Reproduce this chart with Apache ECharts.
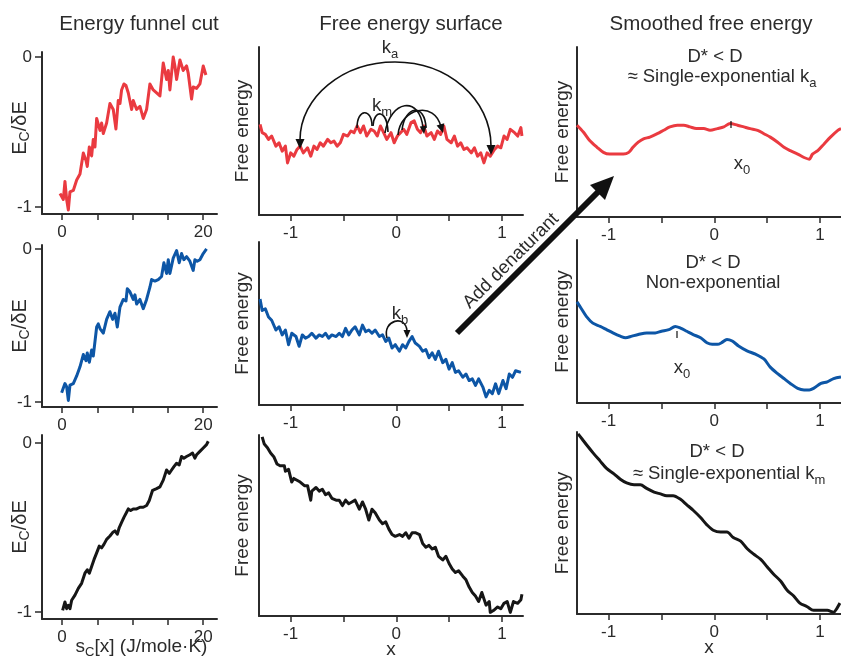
<!DOCTYPE html>
<html><head><meta charset="utf-8">
<script src="https://cdn.jsdelivr.net/npm/echarts@6/dist/echarts.min.js"></script>
<style>html,body{margin:0;padding:0;background:#fff}#c{width:841px;height:659px}</style>
</head><body><div id="c"></div>
<script>
// ---------- DATA ----------
// Column 1: energy funnel cut, x = s_C[x], y = E_C/dE
const funnelRedX = [-0.28,0.19,0.42,0.66,0.90,1.13,1.60,2.08,2.55,3.02,3.40,3.58,3.87,4.20,4.43,4.67,4.91,5.38,5.61,5.85,6.32,6.79,7.26,7.64,7.97,8.21,8.44,8.77,9.06,9.39,9.86,10.09,10.57,11.04,11.51,11.98,12.45,12.92,13.40,13.87,14.34,14.81,15.05,15.28,15.75,15.99,16.23,16.70,17.17,17.64,17.88,18.35,18.58,19.06,19.53,20.00,20.38];
const funnelRedY = [-0.91,-0.95,-0.83,-0.95,-1.02,-0.90,-0.89,-0.82,-0.78,-0.64,-0.69,-0.73,-0.60,-0.66,-0.55,-0.60,-0.41,-0.49,-0.44,-0.51,-0.44,-0.31,-0.35,-0.48,-0.29,-0.31,-0.22,-0.18,-0.19,-0.24,-0.35,-0.29,-0.35,-0.33,-0.41,-0.35,-0.18,-0.22,-0.24,-0.26,-0.04,-0.15,-0.09,-0.22,0.0,-0.06,-0.15,-0.02,-0.09,-0.06,-0.11,-0.28,-0.20,-0.21,-0.18,-0.06,-0.12];
const funnelBlueX = [-0.05,0.42,0.66,0.90,1.13,1.60,2.08,2.55,3.02,3.40,3.58,3.87,4.20,4.43,4.91,5.14,5.38,5.61,5.85,6.32,6.79,7.17,7.50,7.83,8.21,8.68,9.06,9.25,9.62,10.09,10.33,10.57,11.04,11.51,11.98,12.45,12.69,13.16,13.63,14.10,14.43,14.81,15.05,15.28,15.75,16.23,16.60,16.93,17.26,17.64,18.11,18.58,18.82,19.15,19.53,20.00,20.47];
const funnelBlueY = [-0.94,-0.88,-0.90,-0.99,-0.89,-0.88,-0.83,-0.77,-0.69,-0.73,-0.68,-0.74,-0.66,-0.70,-0.51,-0.49,-0.52,-0.51,-0.55,-0.46,-0.41,-0.46,-0.42,-0.51,-0.38,-0.33,-0.34,-0.26,-0.28,-0.33,-0.30,-0.36,-0.33,-0.39,-0.33,-0.25,-0.20,-0.21,-0.20,-0.18,-0.09,-0.16,-0.07,-0.16,-0.06,-0.01,-0.09,-0.03,-0.07,-0.05,-0.08,-0.14,-0.07,-0.08,-0.07,-0.03,0.0];
const funnelBlackX = [0.09,0.42,0.66,0.90,1.13,1.37,1.84,2.31,2.78,3.25,3.58,3.87,4.20,4.53,4.91,5.28,5.61,5.94,6.32,6.79,7.17,7.50,7.83,8.11,8.44,8.77,9.15,9.39,9.72,10.09,10.57,11.04,11.51,11.98,12.36,12.83,13.40,13.87,14.34,14.81,15.19,15.52,15.85,16.23,16.60,16.93,17.26,17.64,18.11,18.49,18.82,19.06,19.53,20.00,20.47,20.71];
const funnelBlackY = [-0.99,-0.94,-0.98,-0.96,-0.98,-0.93,-0.90,-0.86,-0.83,-0.77,-0.75,-0.77,-0.73,-0.69,-0.65,-0.61,-0.62,-0.60,-0.57,-0.55,-0.53,-0.52,-0.54,-0.50,-0.47,-0.44,-0.41,-0.39,-0.40,-0.39,-0.39,-0.38,-0.38,-0.37,-0.34,-0.28,-0.27,-0.26,-0.22,-0.16,-0.18,-0.16,-0.14,-0.12,-0.13,-0.08,-0.09,-0.08,-0.07,-0.06,-0.09,-0.07,-0.05,-0.03,-0.01,0.01];

// Column 2: free energy surface (x = reaction coordinate, y = relative free energy 0..1)
const surfRedX = [-1.29,-1.27,-1.24,-1.21,-1.18,-1.14,-1.11,-1.08,-1.05,-1.03,-1.00,-0.97,-0.94,-0.91,-0.88,-0.84,-0.81,-0.78,-0.75,-0.72,-0.69,-0.65,-0.62,-0.59,-0.56,-0.53,-0.50,-0.46,-0.43,-0.40,-0.37,-0.34,-0.31,-0.28,-0.24,-0.21,-0.18,-0.15,-0.12,-0.09,-0.05,-0.02,0.01,0.04,0.07,0.10,0.14,0.17,0.20,0.23,0.26,0.29,0.33,0.36,0.39,0.42,0.45,0.48,0.52,0.55,0.58,0.61,0.64,0.67,0.71,0.74,0.77,0.80,0.83,0.86,0.89,0.93,0.96,0.99,1.02,1.05,1.08,1.12,1.15,1.18,1.19];
const surfRedY = [0.54,0.49,0.48,0.45,0.47,0.41,0.43,0.38,0.41,0.31,0.37,0.35,0.39,0.41,0.37,0.40,0.35,0.41,0.39,0.43,0.41,0.45,0.43,0.44,0.41,0.43,0.48,0.47,0.50,0.49,0.53,0.49,0.53,0.47,0.51,0.50,0.47,0.53,0.49,0.45,0.49,0.43,0.47,0.49,0.51,0.48,0.55,0.56,0.51,0.49,0.53,0.47,0.49,0.45,0.50,0.48,0.53,0.45,0.43,0.47,0.41,0.43,0.39,0.40,0.37,0.40,0.35,0.37,0.31,0.37,0.35,0.39,0.41,0.40,0.47,0.45,0.51,0.49,0.47,0.52,0.47];
const surfBlueX = [-1.29,-1.27,-1.24,-1.21,-1.18,-1.14,-1.11,-1.08,-1.05,-1.02,-0.99,-0.95,-0.92,-0.89,-0.86,-0.83,-0.80,-0.76,-0.73,-0.70,-0.67,-0.64,-0.61,-0.57,-0.54,-0.51,-0.48,-0.45,-0.42,-0.39,-0.35,-0.32,-0.29,-0.26,-0.23,-0.20,-0.16,-0.13,-0.10,-0.07,-0.04,-0.01,0.03,0.06,0.09,0.12,0.15,0.18,0.22,0.25,0.28,0.31,0.34,0.37,0.40,0.44,0.47,0.50,0.53,0.56,0.59,0.63,0.66,0.69,0.72,0.75,0.78,0.82,0.85,0.88,0.91,0.94,0.97,1.01,1.04,1.07,1.10,1.13,1.18];
const surfBlueY = [0.65,0.58,0.59,0.54,0.52,0.46,0.48,0.43,0.46,0.37,0.44,0.42,0.36,0.43,0.41,0.42,0.44,0.41,0.43,0.42,0.44,0.41,0.43,0.42,0.44,0.42,0.47,0.43,0.46,0.48,0.43,0.49,0.45,0.46,0.44,0.46,0.42,0.43,0.39,0.41,0.35,0.37,0.33,0.37,0.35,0.39,0.42,0.38,0.36,0.33,0.34,0.29,0.32,0.28,0.33,0.26,0.28,0.22,0.26,0.20,0.21,0.17,0.19,0.15,0.16,0.12,0.16,0.11,0.05,0.09,0.07,0.13,0.07,0.15,0.10,0.19,0.17,0.21,0.20];
const surfBlackX = [-1.27,-1.25,-1.22,-1.19,-1.16,-1.13,-1.10,-1.06,-1.05,-1.02,-0.99,-0.97,-0.94,-0.91,-0.87,-0.84,-0.81,-0.80,-0.76,-0.73,-0.70,-0.67,-0.64,-0.61,-0.57,-0.54,-0.51,-0.48,-0.45,-0.42,-0.39,-0.35,-0.32,-0.29,-0.26,-0.23,-0.20,-0.16,-0.13,-0.10,-0.07,-0.04,-0.01,0.03,0.06,0.09,0.12,0.15,0.18,0.22,0.25,0.28,0.31,0.34,0.37,0.40,0.44,0.47,0.50,0.53,0.56,0.59,0.63,0.66,0.69,0.72,0.75,0.78,0.81,0.85,0.88,0.89,0.92,0.96,0.99,1.02,1.05,1.08,1.11,1.15,1.18,1.19];
const surfBlackY = [0.99,0.95,0.93,0.90,0.88,0.84,0.83,0.83,0.80,0.81,0.74,0.76,0.75,0.74,0.72,0.72,0.64,0.69,0.71,0.69,0.70,0.67,0.68,0.65,0.64,0.64,0.61,0.64,0.62,0.63,0.64,0.59,0.63,0.59,0.53,0.59,0.57,0.53,0.51,0.52,0.48,0.45,0.44,0.45,0.44,0.46,0.43,0.46,0.46,0.45,0.40,0.38,0.39,0.37,0.38,0.33,0.31,0.33,0.29,0.26,0.24,0.25,0.22,0.20,0.16,0.13,0.11,0.08,0.13,0.06,0.08,0.02,0.03,0.05,0.04,0.07,0.08,0.02,0.08,0.07,0.09,0.12];

// Column 3: smoothed free energy
const smoothRedX = [-1.30,-1.24,-1.18,-1.11,-1.05,-0.99,-0.92,-0.86,-0.81,-0.77,-0.72,-0.67,-0.61,-0.54,-0.48,-0.42,-0.35,-0.29,-0.23,-0.17,-0.10,-0.04,0.03,0.09,0.15,0.22,0.28,0.34,0.41,0.47,0.53,0.60,0.66,0.72,0.79,0.85,0.90,0.93,0.98,1.04,1.10,1.17,1.20];
const smoothRedY = [0.54,0.50,0.45,0.41,0.38,0.37,0.37,0.37,0.38,0.41,0.44,0.46,0.47,0.49,0.51,0.53,0.54,0.54,0.53,0.52,0.52,0.51,0.52,0.53,0.55,0.54,0.53,0.52,0.51,0.49,0.47,0.44,0.41,0.39,0.37,0.35,0.34,0.37,0.39,0.43,0.47,0.51,0.52];
const smoothBlueX = [-1.30,-1.26,-1.21,-1.15,-1.08,-1.02,-0.96,-0.89,-0.84,-0.78,-0.72,-0.64,-0.56,-0.50,-0.43,-0.37,-0.32,-0.26,-0.20,-0.13,-0.07,-0.02,0.03,0.07,0.12,0.17,0.23,0.31,0.39,0.47,0.53,0.60,0.66,0.72,0.79,0.85,0.90,0.94,1.01,1.07,1.13,1.20];
const smoothBlueY = [0.62,0.58,0.53,0.49,0.47,0.45,0.43,0.41,0.40,0.41,0.42,0.43,0.43,0.44,0.45,0.47,0.46,0.44,0.42,0.40,0.37,0.36,0.36,0.37,0.39,0.38,0.35,0.32,0.30,0.27,0.22,0.18,0.15,0.12,0.09,0.08,0.08,0.09,0.12,0.13,0.15,0.16];
const smoothBlackX = [-1.29,-1.25,-1.21,-1.14,-1.08,-1.02,-0.95,-0.89,-0.83,-0.76,-0.70,-0.64,-0.57,-0.51,-0.45,-0.39,-0.32,-0.26,-0.20,-0.13,-0.07,-0.01,0.06,0.12,0.18,0.25,0.31,0.37,0.44,0.50,0.56,0.63,0.69,0.75,0.81,0.88,0.94,1.00,1.07,1.13,1.16,1.19];
const smoothBlackY = [0.99,0.96,0.93,0.88,0.84,0.80,0.77,0.74,0.72,0.71,0.71,0.69,0.67,0.66,0.65,0.65,0.63,0.60,0.57,0.53,0.49,0.46,0.45,0.45,0.42,0.40,0.36,0.33,0.30,0.26,0.22,0.18,0.13,0.10,0.06,0.04,0.02,0.02,0.02,0.01,0.03,0.06];

// Tick labels
const funnelTicks = [0,5,10,15,20];
const funnelTickLabels = [0,20];
const funnelYTicks = [-1,0];
const coordTicks = [-1,-0.5,0,0.5,1];
const coordTickLabels = [-1,0,1];

// ---------- CHART ----------
const FONT = '"Liberation Sans", Arial, Helvetica, sans-serif';
const TXT = '#2b2b2b';
const AX = '#2b2b2b';
const RED = '#ea3a40', BLUE = '#0d56a6', BLACK = '#161616';

const gridBoxes = [
  [42,52,175,162],[42,245,175,162],[42,435,175,184],
  [259,47,264,168],[259,242,264,163],[259,435,264,181],
  [577,47,264,170],[577,240,264,163],[577,432,264,182]
];
const grids = gridBoxes.map(b => ({left:b[0], top:b[1], width:b[2], height:b[3], outerBoundsMode:'none', containLabel:false}));
const funnelRanges = [[-1.047,0.033],[-1.033,0.026],[-1.041,0.047]];

const axisLine = {show:true, onZero:false, lineStyle:{color:AX, width:2}};
const tickStyle = {color:AX, width:1.5};
const subRich = (size, sub) => ({
  a:{fontSize:size, lineHeight:24, verticalAlign:'middle', color:TXT, fontFamily:FONT},
  s:{fontSize:sub, lineHeight:12, verticalAlign:'bottom', color:TXT, fontFamily:FONT}
});
const LBL = {fontSize:17, color:TXT, fontFamily:FONT};

const xAxes = [], yAxes = [];
for (let r = 0; r < 3; r++) {
  const xa = {gridIndex:r, type:'value', min:-2.83, max:21.95, axisLine,
    axisTick:{show:true, customValues:funnelTicks, length:6, lineStyle:tickStyle},
    axisLabel:Object.assign({customValues:funnelTickLabels, margin:10}, LBL),
    splitLine:{show:false}};
  if (r === 2) Object.assign(xa, {name:'{a|s}{s|C}{a|[x] (J/mole·K)}', nameLocation:'middle', nameGap:16,
    nameMoveOverlap:false, nameTextStyle:{rich:subRich(19, 13), padding:[0,0,0,24]}});
  xAxes.push(xa);
  yAxes.push({gridIndex:r, type:'value', min:funnelRanges[r][0], max:funnelRanges[r][1], axisLine,
    axisTick:{show:true, customValues:funnelYTicks, length:7, lineStyle:tickStyle},
    axisLabel:Object.assign({customValues:funnelYTicks, margin:10}, LBL),
    splitLine:{show:false},
    name:'{a|E}{s|C}{a|/δE}', nameLocation:'middle', nameRotate:90, nameGap:10, nameMoveOverlap:false,
    nameTextStyle:{rich:subRich(20, 14), padding:(r === 0 ? [0,0,0,10] : 0)}});
}
for (let g = 3; g < 9; g++) {
  const xa = {gridIndex:g, type:'value', min:-1.3, max:1.2, axisLine,
    axisTick:{show:true, customValues:coordTicks, length:6, lineStyle:tickStyle},
    axisLabel:Object.assign({customValues:coordTickLabels, margin:10}, LBL),
    splitLine:{show:false}};
  if (g === 5 || g === 8) Object.assign(xa, {name:'x', nameLocation:'middle', nameGap:24, nameMoveOverlap:false,
    nameTextStyle:{fontSize:19, color:TXT, fontFamily:FONT}});
  xAxes.push(xa);
  yAxes.push({gridIndex:g, type:'value', min:0, max:1, axisLine,
    axisTick:{show:false}, axisLabel:{show:false}, splitLine:{show:false},
    name:'Free energy', nameLocation:'middle', nameRotate:90, nameGap:(g<6?7:5), nameMoveOverlap:false,
    nameTextStyle:{fontSize:19, color:TXT, fontFamily:FONT}});
}

const pairs = (xs, ys) => xs.map((x, i) => [x, ys[i]]);
const curves = [
  [funnelRedX, funnelRedY, RED], [funnelBlueX, funnelBlueY, BLUE], [funnelBlackX, funnelBlackY, BLACK],
  [surfRedX, surfRedY, RED], [surfBlueX, surfBlueY, BLUE], [surfBlackX, surfBlackY, BLACK],
  [smoothRedX, smoothRedY, RED], [smoothBlueX, smoothBlueY, BLUE], [smoothBlackX, smoothBlackY, BLACK]
];
const series = curves.map((c, i) => ({
  type:'line', xAxisIndex:i, yAxisIndex:i, data:pairs(c[0], c[1]),
  showSymbol:false, symbol:'none', silent:true, smooth:(i >= 6 ? 0.3 : false),
  lineStyle:{color:c[2], width:3, join:'round'}, z:2
}));

// ---------- annotations ----------
const INK = '#111';
function head(tx, ty, dx, dy, L, W) {
  const n = Math.hypot(dx, dy); dx /= n; dy /= n;
  const bx = tx - dx * L, by = ty - dy * L;
  return {type:'polygon', z:100, shape:{points:[[tx,ty],[bx - dy*W, by + dx*W],[bx + dy*W, by - dx*W]]}, style:{fill:INK}};
}
function bez(x1,y1,c1x,c1y,c2x,c2y,x2,y2,w) {
  return {type:'bezierCurve', z:100, shape:{x1,y1,cpx1:c1x,cpy1:c1y,cpx2:c2x,cpy2:c2y,x2,y2}, style:{stroke:INK, lineWidth:w||1.6, fill:'none'}};
}
function txt(x, y, text, size, extra) {
  return Object.assign({type:'text', x, y, z:100, style:{text, fill:TXT, font:size + 'px ' + FONT, align:'center', verticalAlign:'middle'}}, extra || {});
}
function subTxt(x, y, main, sub, size) {
  return {type:'text', x, y, z:100, style:{text:'{a|' + main + '}{s|' + sub + '}', align:'center', verticalAlign:'middle',
    rich:{a:{fontSize:size, lineHeight:26, verticalAlign:'middle', fill:TXT, fontFamily:FONT},
          s:{fontSize:Math.round(size*0.72), lineHeight:13, verticalAlign:'bottom', fill:TXT, fontFamily:FONT}}}};
}

const graphic = [
  txt(139, 24, 'Energy funnel cut', 20.5),
  txt(411, 24, 'Free energy surface', 20.5),
  txt(711, 24, 'Smoothed free energy', 20.5),
  // k_a big arc
  bez(300,140, 300,97, 343,62, 395,62),
  bez(395,62, 448,62, 491,99, 491,146),
  head(300,149, 0,1, 10,4.5),
  head(491,155, 0,1, 10,4.5),
  subTxt(390, 48, 'k', 'a', 18.5),
  // k_m hops
  bez(357,128, 357,108, 372,108, 372,126),
  bez(373,126, 374,109, 387,109, 388,132),
  bez(385,133, 390,100, 420,95, 423,128),
  bez(398,135, 400,108, 435,100, 441,127),
  bez(402,130, 405,105, 425,103, 426,128),
  head(424,134, 0.1,1, 8,3.5),
  head(443,133, 0.3,1, 9,4),
  subTxt(382, 106, 'k', 'm', 18.5),
  // k_b loop
  bez(387,338, 382,320, 406,314, 407,331),
  head(407,338, 0,1, 8,3.5),
  subTxt(400, 314, 'k', 'b', 18.5),
  // Add denaturant arrow
  {type:'line', z:100, shape:{x1:457,y1:333,x2:598,y2:192}, style:{stroke:INK, lineWidth:6}},
  {type:'polygon', z:100, shape:{points:[[614,176],[605,200],[590,185]]}, style:{fill:INK}},
  txt(511, 261, 'Add denaturant', 18.5, {rotation:Math.PI/4}),
  // column 3 annotations
  txt(715, 57, 'D* < D', 18.5),
  subTxt(722, 77, '≈ Single-exponential k', 'a', 18.5),
  subTxt(742, 164, 'x', '0', 18.5),
  {type:'line', z:100, shape:{x1:731,y1:121,x2:731,y2:128}, style:{stroke:INK, lineWidth:1.2}},
  txt(713, 263, 'D* < D', 18.5),
  txt(713, 283, 'Non-exponential', 18.5),
  subTxt(682, 368, 'x', '0', 18.5),
  {type:'line', z:100, shape:{x1:677,y1:331,x2:677,y2:338}, style:{stroke:INK, lineWidth:1.2}},
  txt(717, 452, 'D* < D', 18.5),
  subTxt(729, 474, '≈ Single-exponential k', 'm', 18.5)
];

const chart = echarts.init(document.getElementById('c'), null, {renderer:'canvas'});
chart.setOption({animation:false, backgroundColor:'#fff', grid:grids, xAxis:xAxes, yAxis:yAxes, series, graphic});
</script></body></html>
